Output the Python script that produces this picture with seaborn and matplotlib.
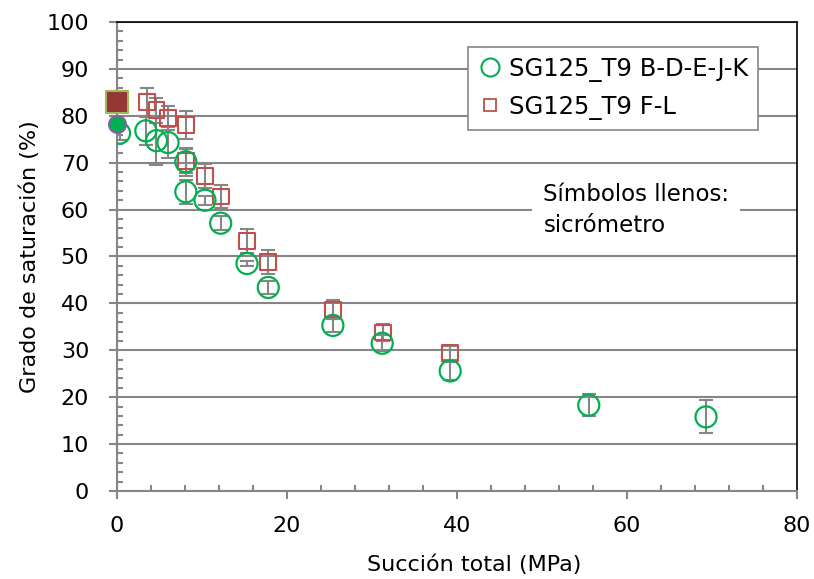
import numpy as np
import pandas as pd
import matplotlib
matplotlib.use("Agg")
import matplotlib.pyplot as plt
import seaborn as sns
from matplotlib.ticker import MultipleLocator

# serie B-D-E-J-K (circulos)
suc_c = [0.3, 3.4, 4.65, 6.0, 8.1, 8.1, 10.35, 12.2, 15.3, 17.8, 25.4, 31.2, 39.2, 55.5, 69.3]
sat_c = [76.3, 76.8, 74.7, 74.3, 70.2, 63.8, 62.0, 57.1, 48.5, 43.4, 35.3, 31.5, 25.6, 18.3, 15.8]
err_c = [1.5, 3.0, 5.2, 3.3, 3.0, 2.5, 1.0, 1.5, 0.5, 1.3, 1.3, 1.7, 2.0, 2.4, 3.5]

# serie F-L (cuadrados)
suc_s = [3.5, 4.65, 6.0, 8.1, 8.1, 10.35, 12.2, 15.3, 17.8, 25.4, 31.3, 39.2]
sat_s = [83.0, 81.2, 79.5, 78.0, 70.4, 67.2, 62.8, 53.3, 48.8, 38.7, 33.8, 29.4]
err_s = [3.0, 2.7, 2.5, 3.0, 2.6, 2.5, 2.5, 2.6, 2.5, 2.0, 1.8, 1.5]

# psicrometro (simbolos llenos)
psi_suc = [0.0, 0.0]
psi_sat = [78.3, 83.0]

lab_c = "SG125_T9 B-D-E-J-K"
lab_s = "SG125_T9 F-L"

df = pd.concat([
    pd.DataFrame({"s": suc_c, "sr": sat_c, "err": err_c, "serie": lab_c}),
    pd.DataFrame({"s": suc_s, "sr": sat_s, "err": err_s, "serie": lab_s}),
])

sns.set_style("white")
plt.rcParams["font.family"] = ["DejaVu Sans"]
plt.rcParams["text.color"] = "black"
plt.rcParams["axes.labelcolor"] = "black"
plt.rcParams["xtick.color"] = "black"
plt.rcParams["ytick.color"] = "black"

fig = plt.figure(figsize=(8.14, 5.79), dpi=100)
ax = fig.add_axes([0.1437, 0.152, 0.8354, 0.810])

grey = "#868686"
green = "#00b050"
red = "#c0504d"

for lab in [lab_s, lab_c]:
    d = df[df["serie"] == lab]
    ax.errorbar(d["s"], d["sr"], yerr=d["err"], fmt="none", ecolor=grey,
                elinewidth=1.5, capsize=5, capthick=1.5, zorder=3)

sns.scatterplot(data=df[df["serie"] == lab_s], x="s", y="sr", ax=ax, marker="s",
                s=130, facecolor="none", edgecolor=red, linewidth=1.5, zorder=4)
sns.scatterplot(data=df[df["serie"] == lab_c], x="s", y="sr", ax=ax, marker="o",
                s=230, facecolor="none", edgecolor=green, linewidth=1.6, zorder=4)

ax.scatter([psi_suc[1]], [psi_sat[1]], marker="s", s=230, color="#953735",
           edgecolor="#9bbb59", linewidth=1.5, zorder=5, clip_on=False)
ax.scatter([psi_suc[0]], [psi_sat[0]], marker="o", s=150, color=green,
           edgecolor="#8064a2", linewidth=1.5, zorder=5, clip_on=False)

ax.set_xlim(0, 80)
ax.set_ylim(0, 100)
ax.xaxis.set_major_locator(MultipleLocator(20))
ax.xaxis.set_minor_locator(MultipleLocator(4))
ax.yaxis.set_major_locator(MultipleLocator(10))
ax.yaxis.set_minor_locator(MultipleLocator(2))
ax.grid(axis="y", which="major", color=grey, linewidth=1.5)
ax.set_axisbelow(True)

for sp in ["left", "bottom"]:
    ax.spines[sp].set_color(grey)
    ax.spines[sp].set_linewidth(1.5)
for sp in ["top", "right"]:
    ax.spines[sp].set_color("black")
    ax.spines[sp].set_linewidth(1.2)

ax.tick_params(which="major", direction="out", length=6, width=1.5, color=grey,
               labelsize=16, bottom=True, left=True, top=False, right=False)
ax.tick_params(which="minor", direction="in", length=4.5, width=1.5, color=grey,
               bottom=True, left=True, top=False, right=False)
ax.tick_params(axis="x", which="major", pad=12)
ax.tick_params(axis="y", which="major", pad=14)

ax.set_xlabel("Succión total (MPa)", fontsize=16)
ax.set_ylabel("Grado de saturación (%)", fontsize=16)
ax.xaxis.set_label_coords(0.526, -0.135)
ax.yaxis.set_label_coords(-0.113, 0.5)

h = [plt.Line2D([], [], ls="none", marker="o", ms=13, mfc="none", mec=green, mew=1.5),
     plt.Line2D([], [], ls="none", marker="s", ms=8, mfc="none", mec=red, mew=1.3)]
leg = ax.legend(h, [lab_c, lab_s], loc="upper left", bbox_to_anchor=(0.516, 0.947),
                fontsize=17.5, frameon=True, fancybox=False, framealpha=1,
                edgecolor=grey, handlelength=1.0, handletextpad=0.3,
                borderpad=0.4, labelspacing=0.55, borderaxespad=0)
leg.get_frame().set_linewidth(1.2)

ax.text(0.627, 0.60, "Símbolos llenos:\nsicrómetro", transform=ax.transAxes,
        fontsize=16.5, va="center", ha="left", linespacing=1.45,
        bbox=dict(facecolor="white", edgecolor="none", pad=8), zorder=6)

fig.savefig("out.png", dpi=100)
